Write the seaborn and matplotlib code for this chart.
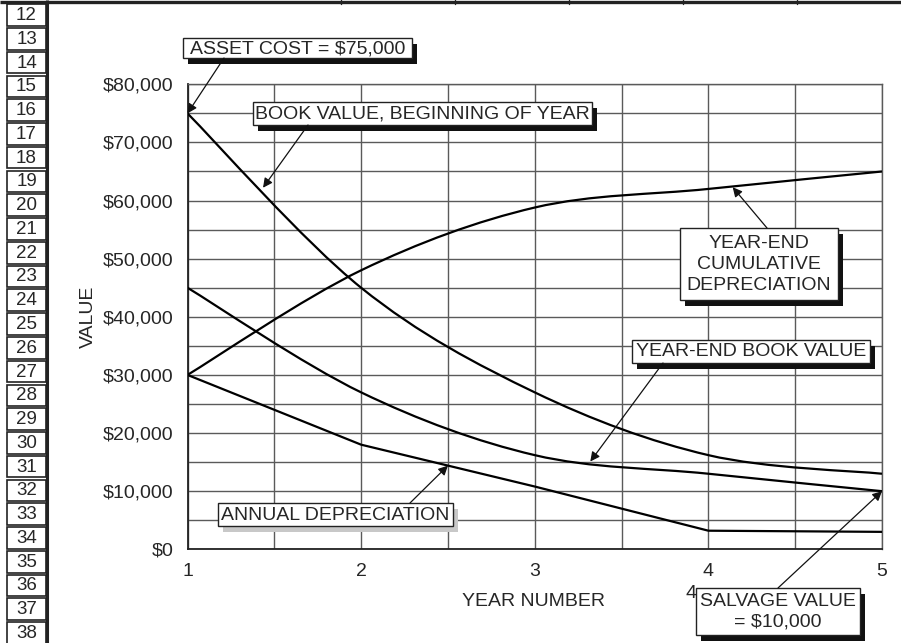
import numpy as np
import pandas as pd
import seaborn as sns
import matplotlib
matplotlib.use("Agg")
import matplotlib.pyplot as plt
from matplotlib.path import Path
from matplotlib.patches import PathPatch, Rectangle
from matplotlib.ticker import FuncFormatter, MultipleLocator

# ---- data -------------------------------------------------------------
years = [1, 2, 3, 4, 5]
book_value_begin = [75000, 45000, 27000, 16200, 13000]
year_end_book_value = [45000, 27000, 16200, 13000, 10000]
cumulative_depreciation = [30000, 48000, 58800, 62000, 65000]
annual_depreciation = [30000, 18000, 10800, 3200, 3000]

y_ticks = [0, 10000, 20000, 30000, 40000, 50000, 60000, 70000, 80000]
x_ticks = [1, 2, 3, 4, 5]
row_numbers = list(range(12, 39))

asset_cost = 75000
salvage_value = 10000

# ---- style ------------------------------------------------------------
sns.set_style("white")
plt.rcParams["font.family"] = ["Liberation Sans", "DejaVu Sans"]
FS = 14

W, H = 901, 643
fig = plt.figure(figsize=(W / 100, H / 100), dpi=100)

# plot area placed in pixel terms
x0, x1 = 187.5, 882.0
y_top, y_bot = 84.3, 549.3
ax = fig.add_axes([x0 / W, 1 - y_bot / H, (x1 - x0) / W, (y_bot - y_top) / H])

ax.set_xlim(1, 5)
ax.set_ylim(0, 80000)
ax.set_xticks(x_ticks)
ax.xaxis.set_minor_locator(MultipleLocator(0.5))
ax.set_yticks(y_ticks)
ax.yaxis.set_minor_locator(MultipleLocator(5000))
ax.yaxis.set_major_formatter(FuncFormatter(lambda v, p: f"${v:,.0f}"))
ax.xaxis.set_major_formatter(FuncFormatter(lambda v, p: f"{v:.0f}"))

grid_col = "#5a5a5a"
ax.grid(True, which="both", color=grid_col, lw=1.0)
ax.set_axisbelow(True)
for side in ["top", "right"]:
    ax.spines[side].set_color(grid_col)
    ax.spines[side].set_linewidth(1.0)
for side in ["left", "bottom"]:
    ax.spines[side].set_color("#222222")
    ax.spines[side].set_linewidth(1.3)

ax.tick_params(axis="both", which="major", direction="out", length=5,
               width=1.0, color="#222222", labelsize=FS, pad=5)
ax.tick_params(axis="both", which="minor", length=0)


def smooth_curve(xs, ys):
    """Excel-style smoothed line: cubic Bezier segments through each point."""
    pts = np.column_stack([xs, ys]).astype(float)
    ext = np.vstack([pts[0], pts, pts[-1]])
    verts = [tuple(pts[0])]
    codes = [Path.MOVETO]
    for i in range(len(pts) - 1):
        p0, p1, p2, p3 = ext[i], ext[i + 1], ext[i + 2], ext[i + 3]
        c1 = p1 + (p2 - p0) / 6.0
        c2 = p2 - (p3 - p1) / 6.0
        verts += [tuple(c1), tuple(c2), tuple(p2)]
        codes += [Path.CURVE4] * 3
    return Path(verts, codes)


for series in [book_value_begin, year_end_book_value, cumulative_depreciation]:
    ax.add_patch(PathPatch(smooth_curve(years, series), fill=False,
                           ec="black", lw=1.6, zorder=3))

df = pd.DataFrame({"year": years, "annual": annual_depreciation})
sns.lineplot(data=df, x="year", y="annual", ax=ax, color="black", lw=1.6,
             zorder=3)

ax.set_xlabel("YEAR NUMBER", fontsize=FS)
ax.set_ylabel("VALUE", fontsize=FS)
ax.xaxis.set_label_coords((534 - x0) / (x1 - x0), -(601 - y_bot) / (y_bot - y_top))
ax.xaxis.label.set_va("center")
ax.yaxis.set_label_coords((88 - x0) / (x1 - x0), (y_bot - 317) / (y_bot - y_top))
ax.yaxis.label.set_va("center")

# ---- overlay in pixel coordinates ---------------------------------------
ov = fig.add_axes([0, 0, 1, 1], zorder=5)
ov.set_xlim(0, W)
ov.set_ylim(H, 0)
ov.axis("off")
ov.patch.set_alpha(0)

# worksheet frame: top border and row-number column
ov.plot([0, W], [1.5, 1.5], color="#222222", lw=2.4, solid_capstyle="butt")
for xd in [341, 455, 569, 683, 797]:
    ov.plot([xd, xd], [0, 4], color="#222222", lw=1.0)
ov.plot([46.5, 46.5], [0, H], color="#222222", lw=2.2, solid_capstyle="butt")

for i, n in enumerate(row_numbers):
    cy = 15 + i * 23.77
    ov.add_patch(Rectangle((7, cy - 10.8), 39, 21.6, fill=False,
                           ec="#222222", lw=1.2))
    ov.text(26.5, cy + 0.5, str(n), ha="center", va="center", fontsize=13.5)


def callout(bx0, by0, bx1, by1, text, shadow="#111111", off=(5, 6)):
    ov.add_patch(Rectangle((bx0 + off[0], by0 + off[1]), bx1 - bx0, by1 - by0,
                           fc=shadow, ec="none", zorder=6))
    ov.add_patch(Rectangle((bx0, by0), bx1 - bx0, by1 - by0, fc="white",
                           ec="#222222", lw=1.0, zorder=7))
    ov.text((bx0 + bx1) / 2, (by0 + by1) / 2 + 0.5, text, ha="center",
            va="center", fontsize=FS, zorder=8, linespacing=1.3)


def arrow(tail_px, tip_data):
    ov.annotate("", xy=tip_data, xycoords=ax.transData, xytext=tail_px,
                textcoords=ov.transData,
                arrowprops=dict(arrowstyle="-|>", lw=0.9, color="#111111",
                                mutation_scale=14, shrinkA=0, shrinkB=0),
                zorder=9)


callout(183, 38, 412, 58, f"ASSET COST = ${asset_cost:,}")
arrow((224, 58), (1, asset_cost))

callout(253, 102, 592, 125, "BOOK VALUE, BEGINNING OF YEAR")
arrow((308, 125), (1.435, 62200))

callout(680, 228, 838, 300, "YEAR-END\nCUMULATIVE\nDEPRECIATION")
arrow((767, 228), (4.14, 62300))

callout(632, 340, 870, 363, "YEAR-END BOOK VALUE")
arrow((663, 363), (3.32, 15100))

callout(218, 503, 453, 526, "ANNUAL DEPRECIATION", shadow="#c8c8c8")
arrow((410, 503), (2.5, 14400))

callout(696, 588, 860, 635, f"SALVAGE VALUE\n= ${salvage_value:,}")
arrow((778, 588), (5, salvage_value))

ov.text(697, 594, "4", ha="right", va="center", fontsize=FS)

fig.savefig("out.png", dpi=100, facecolor="white")
